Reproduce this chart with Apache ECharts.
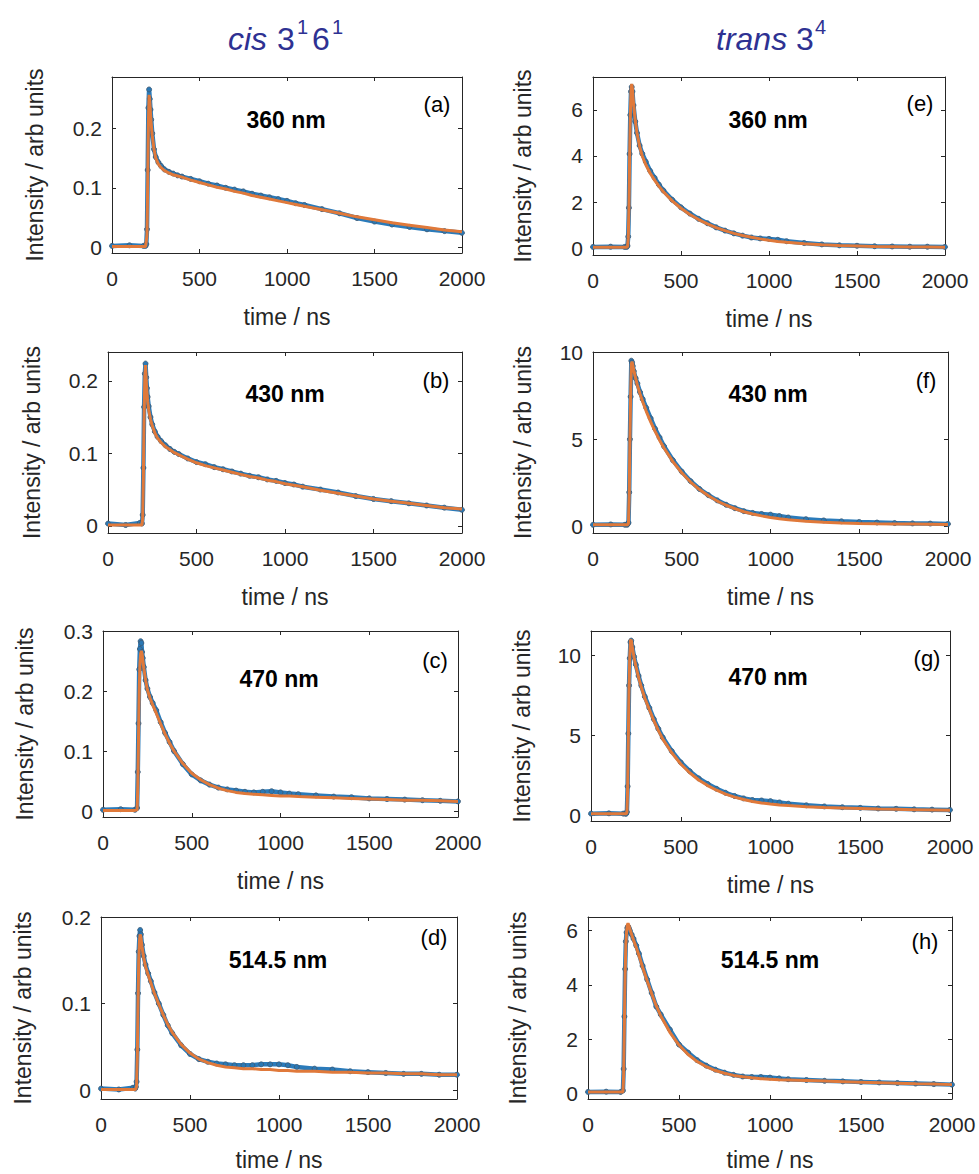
<!DOCTYPE html>
<html>
<head>
<meta charset="utf-8">
<script src="https://cdn.jsdelivr.net/npm/echarts@6/dist/echarts.min.js"></script>
<style>
  html, body { margin: 0; padding: 0; background: #fff; }
  #chart { width: 979px; height: 1174px; }
</style>
</head>
<body>
<div id="chart"></div>
<script>
// time axis (ns), shared by all panels
const times = [0, 100, 180, 192, 196, 200, 204, 208, 212, 216, 220, 224, 230, 240, 250, 265, 280, 300, 325, 350, 375, 400,
  450, 500, 550, 600, 650, 700, 750, 800, 850, 900, 950, 1000, 1050, 1100, 1200, 1300, 1400, 1500, 1600, 1700, 1800, 1900, 2000]

// cis 3^1 6^1
const dataA = [0.002, 0.003, 0.002, 0.002, 0.005, 0.03, 0.13, 0.235, 0.266, 0.25, 0.232, 0.215, 0.192, 0.165, 0.152, 0.143, 0.137, 0.131, 0.127, 0.124, 0.121, 0.119, 0.115, 0.111, 0.107, 0.104, 0.1, 0.097, 0.094, 0.09, 0.087, 0.084, 0.081, 0.078, 0.074, 0.071, 0.064, 0.057, 0.049, 0.043, 0.038, 0.034, 0.03, 0.027, 0.024]
const fitA = [0.001, 0.001, 0.001, 0.001, 0.001, 0.02, 0.11, 0.21, 0.257, 0.245, 0.225, 0.208, 0.188, 0.165, 0.15, 0.14, 0.134, 0.129, 0.125, 0.122, 0.12, 0.118, 0.113, 0.109, 0.105, 0.101, 0.098, 0.094, 0.091, 0.087, 0.084, 0.081, 0.078, 0.075, 0.072, 0.069, 0.063, 0.057, 0.051, 0.046, 0.041, 0.037, 0.033, 0.029, 0.026]
const dataB = [0.003, 0.001, 0.004, 0.003, 0.015, 0.08, 0.164, 0.21, 0.224, 0.205, 0.19, 0.178, 0.165, 0.15, 0.14, 0.13, 0.123, 0.117, 0.111, 0.106, 0.102, 0.099, 0.093, 0.088, 0.085, 0.081, 0.078, 0.075, 0.072, 0.069, 0.067, 0.064, 0.062, 0.059, 0.057, 0.054, 0.05, 0.046, 0.041, 0.037, 0.034, 0.031, 0.028, 0.025, 0.022]
const fitB = [0.001, 0.001, 0.001, 0.001, 0.01, 0.07, 0.15, 0.205, 0.222, 0.2, 0.185, 0.172, 0.16, 0.147, 0.138, 0.128, 0.121, 0.115, 0.109, 0.105, 0.101, 0.098, 0.092, 0.087, 0.083, 0.08, 0.077, 0.074, 0.071, 0.068, 0.066, 0.063, 0.061, 0.058, 0.056, 0.054, 0.049, 0.045, 0.041, 0.037, 0.034, 0.031, 0.028, 0.025, 0.023]
const dataC = [0.002, 0.003, 0.002, 0.005, 0.065, 0.146, 0.236, 0.27, 0.283, 0.28, 0.265, 0.255, 0.24, 0.218, 0.204, 0.19, 0.18, 0.168, 0.148, 0.13, 0.115, 0.1, 0.078, 0.061, 0.051, 0.044, 0.039, 0.036, 0.034, 0.032, 0.031, 0.032, 0.033, 0.031, 0.029, 0.028, 0.026, 0.024, 0.023, 0.021, 0.02, 0.019, 0.018, 0.017, 0.016]
const fitC = [0.001, 0.001, 0.001, 0.002, 0.04, 0.12, 0.2, 0.245, 0.262, 0.267, 0.262, 0.252, 0.238, 0.218, 0.202, 0.188, 0.177, 0.163, 0.145, 0.128, 0.113, 0.1, 0.079, 0.063, 0.052, 0.044, 0.038, 0.034, 0.031, 0.029, 0.028, 0.027, 0.026, 0.025, 0.025, 0.024, 0.023, 0.022, 0.021, 0.02, 0.019, 0.018, 0.018, 0.017, 0.016]
const dataD = [0.002, 0.001, 0.003, 0.002, 0.004, 0.01, 0.047, 0.112, 0.16, 0.178, 0.185, 0.18, 0.168, 0.155, 0.145, 0.135, 0.126, 0.113, 0.1, 0.087, 0.075, 0.066, 0.052, 0.042, 0.036, 0.033, 0.031, 0.03, 0.029, 0.029, 0.029, 0.03, 0.03, 0.03, 0.029, 0.027, 0.025, 0.024, 0.022, 0.021, 0.02, 0.019, 0.019, 0.018, 0.018]
const fitD = [0.001, 0.001, 0.001, 0.001, 0.002, 0.005, 0.04, 0.1, 0.15, 0.172, 0.18, 0.177, 0.166, 0.153, 0.143, 0.133, 0.124, 0.112, 0.099, 0.087, 0.076, 0.067, 0.053, 0.043, 0.036, 0.032, 0.029, 0.027, 0.026, 0.025, 0.025, 0.024, 0.024, 0.023, 0.023, 0.022, 0.022, 0.021, 0.021, 0.02, 0.02, 0.019, 0.019, 0.018, 0.018]

// trans 3^4
const dataE = [0.05, 0.06, 0.05, 0.05, 0.1, 0.5, 1.75, 4.09, 5.78, 6.8, 7.0, 6.8, 6.2, 5.5, 5.0, 4.45, 4.1, 3.75, 3.35, 3.05, 2.75, 2.5, 2.1, 1.77, 1.5, 1.27, 1.08, 0.9, 0.76, 0.64, 0.54, 0.46, 0.42, 0.4, 0.36, 0.3, 0.22, 0.16, 0.12, 0.1, 0.08, 0.07, 0.06, 0.06, 0.05]
const fitE = [0.04, 0.04, 0.04, 0.04, 0.05, 0.4, 1.6, 3.9, 5.7, 6.8, 7.13, 6.9, 6.3, 5.55, 5.0, 4.4, 4.0, 3.62, 3.25, 2.95, 2.68, 2.45, 2.05, 1.73, 1.46, 1.24, 1.05, 0.89, 0.76, 0.64, 0.55, 0.47, 0.4, 0.34, 0.29, 0.25, 0.19, 0.14, 0.11, 0.09, 0.07, 0.06, 0.05, 0.05, 0.04]
const dataF = [0.1, 0.12, 0.1, 0.1, 0.15, 0.22, 1.96, 5.0, 7.44, 9.5, 9.4, 9.2, 8.9, 8.5, 8.2, 7.7, 7.3, 6.8, 6.2, 5.6, 5.1, 4.6, 3.8, 3.15, 2.6, 2.15, 1.8, 1.5, 1.25, 1.05, 0.88, 0.78, 0.72, 0.68, 0.6, 0.52, 0.42, 0.35, 0.3, 0.26, 0.23, 0.2, 0.18, 0.17, 0.15]
const fitF = [0.1, 0.1, 0.1, 0.1, 0.1, 0.2, 1.8, 4.9, 7.5, 9.3, 9.45, 9.25, 8.95, 8.5, 8.1, 7.6, 7.15, 6.6, 6.0, 5.45, 4.95, 4.5, 3.72, 3.08, 2.55, 2.12, 1.76, 1.46, 1.22, 1.02, 0.85, 0.72, 0.61, 0.52, 0.45, 0.39, 0.31, 0.25, 0.21, 0.18, 0.16, 0.15, 0.14, 0.13, 0.12]
const dataG = [0.1, 0.12, 0.1, 0.1, 0.1, 0.2, 1.8, 5.1, 8.1, 9.8, 10.8, 10.9, 10.5, 9.9, 9.4, 8.7, 8.1, 7.4, 6.7, 6.0, 5.4, 4.85, 4.0, 3.3, 2.75, 2.3, 1.95, 1.65, 1.4, 1.2, 1.05, 0.95, 0.92, 0.88, 0.8, 0.72, 0.62, 0.55, 0.5, 0.46, 0.42, 0.4, 0.37, 0.35, 0.33]
const fitG = [0.1, 0.1, 0.1, 0.1, 0.1, 0.15, 1.6, 4.9, 8.0, 9.9, 10.9, 10.95, 10.5, 9.85, 9.3, 8.6, 8.0, 7.3, 6.6, 5.9, 5.3, 4.75, 3.9, 3.2, 2.65, 2.2, 1.85, 1.56, 1.32, 1.13, 0.98, 0.86, 0.77, 0.7, 0.64, 0.6, 0.53, 0.48, 0.45, 0.42, 0.39, 0.37, 0.35, 0.33, 0.31]
const dataH = [0.05, 0.06, 0.05, 0.1, 0.9, 2.83, 4.58, 5.6, 5.93, 6.1, 6.15, 6.1, 6.0, 5.85, 5.7, 5.45, 5.15, 4.7, 4.2, 3.7, 3.2, 2.9, 2.35, 1.8, 1.5, 1.22, 1.02, 0.87, 0.76, 0.68, 0.62, 0.6, 0.6, 0.58, 0.55, 0.52, 0.49, 0.46, 0.44, 0.42, 0.4, 0.38, 0.36, 0.34, 0.32]
const fitH = [0.05, 0.05, 0.05, 0.05, 0.7, 2.6, 4.4, 5.5, 5.95, 6.2, 6.27, 6.2, 6.05, 5.85, 5.65, 5.38, 5.08, 4.65, 4.15, 3.67, 3.22, 2.85, 2.25, 1.78, 1.43, 1.17, 0.98, 0.84, 0.74, 0.66, 0.61, 0.57, 0.54, 0.52, 0.5, 0.49, 0.47, 0.45, 0.43, 0.41, 0.39, 0.37, 0.35, 0.34, 0.32]

// tick labels
const xTicks = [0, 500, 1000, 1500, 2000]
const ticksA = [0, 0.1, 0.2]
const ticksB = [0, 0.1, 0.2]
const ticksC = [0, 0.1, 0.2, 0.3]
const ticksD = [0, 0.1, 0.2]
const ticksE = [0, 2, 4, 6]
const ticksF = [0, 5, 10]
const ticksG = [0, 5, 10]
const ticksH = [0, 2, 4, 6]

const wavelengths = ['360 nm', '430 nm', '470 nm', '514.5 nm', '360 nm', '430 nm', '470 nm', '514.5 nm']
const letters = ['(a)', '(b)', '(c)', '(d)', '(e)', '(f)', '(g)', '(h)']

const FONT = '"Liberation Sans", Arial, Helvetica, sans-serif'
const INK = '#262626'

// box = [left, top, width, height]
const panels = [
  { data: dataA, fit: fitA, ticks: ticksA, yMin: -0.01, yMax: 0.287, box: [112, 77, 350, 176], nameX: 35, wl: [286, 120], let: [437, 104] },
  { data: dataB, fit: fitB, ticks: ticksB, yMin: -0.01, yMax: 0.24, box: [108, 352, 354, 181], nameX: 32, wl: [285, 394], let: [436, 380] },
  { data: dataC, fit: fitC, ticks: ticksC, yMin: -0.01, yMax: 0.3, box: [103, 631, 355, 186], nameX: 25, wl: [279, 679], let: [435, 660] },
  { data: dataD, fit: fitD, ticks: ticksD, yMin: -0.01, yMax: 0.2, box: [101, 917, 356, 182], nameX: 23, wl: [278, 960], let: [434, 937] },
  { data: dataE, fit: fitE, ticks: ticksE, yMin: -0.3, yMax: 7.43, box: [593, 77, 352, 178], nameX: 523, wl: [768, 120], let: [920, 103] },
  { data: dataF, fit: fitF, ticks: ticksF, yMin: -0.37, yMax: 10, box: [593, 352, 355, 181], nameX: 523, wl: [768, 394], let: [926, 380] },
  { data: dataG, fit: fitG, ticks: ticksG, yMin: -0.36, yMax: 11.5, box: [591, 631, 359, 190], nameX: 522, wl: [768, 677], let: [927, 658] },
  { data: dataH, fit: fitH, ticks: ticksH, yMin: -0.21, yMax: 6.5, box: [588, 917, 364, 182], nameX: 518, wl: [770, 960], let: [925, 941] },
]

const grid = [], xAxis = [], yAxis = [], series = [], graphic = []

function axisLine() {
  return { show: true, onZero: false, lineStyle: { color: INK, width: 1 } }
}

panels.forEach((p, i) => {
  const [l, t, w, h] = p.box
  grid.push({ left: l, top: t, width: w, height: h, containLabel: false, outerBoundsMode: 'none' })

  xAxis.push({
    gridIndex: i, type: 'value', position: 'bottom', min: 0, max: 2000, interval: 500,
    axisLine: axisLine(),
    axisTick: { show: true, inside: true, length: 4, lineStyle: { color: INK } },
    axisLabel: { margin: 15, fontSize: 21, color: INK, fontFamily: FONT, customValues: xTicks, formatter: v => String(v) },
    splitLine: { show: false },
  })
  xAxis.push({
    gridIndex: i, type: 'value', position: 'top', min: 0, max: 2000, interval: 500,
    axisLine: axisLine(),
    axisTick: { show: true, inside: true, length: 4, lineStyle: { color: INK } },
    axisLabel: { show: false },
    splitLine: { show: false },
  })
  yAxis.push({
    gridIndex: i, type: 'value', position: 'left', min: p.yMin, max: p.yMax,
    axisLine: axisLine(),
    axisTick: { show: true, inside: true, length: 4, customValues: p.ticks, lineStyle: { color: INK } },
    axisLabel: { margin: 10, fontSize: 21, color: INK, fontFamily: FONT, customValues: p.ticks, formatter: v => String(v) },
    splitLine: { show: false },
  })
  yAxis.push({
    gridIndex: i, type: 'value', position: 'right', min: p.yMin, max: p.yMax,
    axisLine: axisLine(),
    axisTick: { show: true, inside: true, length: 4, customValues: p.ticks, lineStyle: { color: INK } },
    axisLabel: { show: false },
    splitLine: { show: false },
  })

  // measured points
  series.push({
    type: 'line', xAxisIndex: 2 * i, yAxisIndex: 2 * i,
    data: times.map((x, k) => [x, p.data[k]]),
    symbol: 'circle', symbolSize: 5, showSymbol: true, showAllSymbol: true,
    lineStyle: { color: '#2b7bba', width: 4.5 },
    itemStyle: { color: '#2a78b4', borderColor: '#3d5871', borderWidth: 0.8 },
    z: 2, animation: false,
  })
  // fit
  series.push({
    type: 'line', xAxisIndex: 2 * i, yAxisIndex: 2 * i,
    data: times.map((x, k) => [x, p.fit[k]]),
    showSymbol: false,
    lineStyle: { color: '#E0793A', width: 3 },
    z: 3, animation: false,
  })

  // axis names
  graphic.push({
    type: 'text', x: p.nameX, y: t + h / 2, rotation: Math.PI / 2,
    style: { text: 'Intensity / arb units', fontSize: 23, fontFamily: FONT, fill: INK, align: 'center', verticalAlign: 'middle' },
  })
  graphic.push({
    type: 'text', x: l + w / 2, y: Math.min(t + h + 64, 1160),
    style: { text: 'time / ns', fontSize: 23, fontFamily: FONT, fill: INK, align: 'center', verticalAlign: 'middle' },
  })
  // wavelength and panel letter
  graphic.push({
    type: 'text', x: p.wl[0], y: p.wl[1],
    style: { text: wavelengths[i], fontSize: 23, fontWeight: 'bold', fontFamily: FONT, fill: '#000', align: 'center', verticalAlign: 'middle' },
  })
  graphic.push({
    type: 'text', x: p.let[0], y: p.let[1],
    style: { text: letters[i], fontSize: 22, fontFamily: FONT, fill: '#000', align: 'center', verticalAlign: 'middle' },
  })
})

// column titles (y = bottom of the text box, about a descent below the baseline)
const TITLE = '#2E3192'
function tpart(text, x, y, size, italic) {
  return {
    type: 'text', x: x, y: y,
    style: { text: text, fontSize: size, fontStyle: italic ? 'italic' : 'normal', fontFamily: FONT, fill: TITLE, align: 'left', verticalAlign: 'bottom' },
  }
}
graphic.push(tpart('cis', 228, 55, 32, true))
graphic.push(tpart('3', 277, 55, 32, false))
graphic.push(tpart('1', 297, 37, 20, false))
graphic.push(tpart('6', 312, 55, 32, false))
graphic.push(tpart('1', 332, 37, 20, false))
graphic.push(tpart('trans', 716, 55, 32, true))
graphic.push(tpart('3', 796, 55, 32, false))
graphic.push(tpart('4', 815, 37, 20, false))

const chart = echarts.init(document.getElementById('chart'), null, { renderer: 'svg' })
chart.setOption({
  animation: false,
  backgroundColor: '#fff',
  grid: grid,
  xAxis: xAxis,
  yAxis: yAxis,
  series: series,
  graphic: graphic,
})
</script>
</body>
</html>
